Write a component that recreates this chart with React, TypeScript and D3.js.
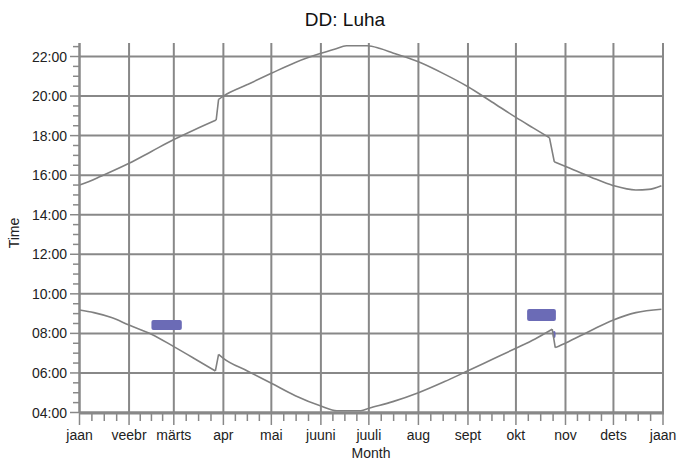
import React from "react";
import * as d3 from "d3";

const monthStarts = [0, 31, 59, 90, 120, 151, 181, 212, 243, 273, 304, 334, 365];
const monthLabels = ["jaan", "veebr", "märts", "apr", "mai", "juuni", "juuli", "aug", "sept", "okt", "nov", "dets", "jaan"];
const hourTicks = [4, 6, 8, 10, 12, 14, 16, 18, 20, 22];
const hourLabels = ["04:00", "06:00", "08:00", "10:00", "12:00", "14:00", "16:00", "18:00", "20:00", "22:00"];

const sunsetDays = [0, 6, 13, 31, 45, 59, 72, 85.5, 87, 90, 105, 120, 135, 151, 160, 167, 180, 188, 196, 212, 228, 243, 258, 273, 284, 294, 297, 304.5, 320, 334, 348, 356, 364];
const sunsetHours = [15.5, 15.68, 15.93, 16.6, 17.2, 17.8, 18.3, 18.79, 19.83, 20.0, 20.58, 21.15, 21.7, 22.16, 22.38, 22.54, 22.54, 22.4, 22.18, 21.73, 21.12, 20.47, 19.7, 18.92, 18.38, 17.89, 16.68, 16.43, 15.9, 15.47, 15.25, 15.28, 15.47];
// indices where a new daylight-saving segment starts
const sunsetBreaks = [8, 26];

const sunriseDays = [0, 9, 20, 31, 45, 59, 72, 85, 87, 90, 105, 120, 135, 151, 161, 176, 181, 196, 212, 228, 243, 258, 273, 285, 295.7, 297.6, 304.5, 320, 334, 348, 364];
const sunriseHours = [9.18, 9.05, 8.8, 8.42, 7.96, 7.33, 6.72, 6.1, 6.94, 6.74, 6.1, 5.48, 4.85, 4.33, 4.09, 4.09, 4.21, 4.55, 5.0, 5.55, 6.11, 6.68, 7.25, 7.72, 8.21, 7.28, 7.53, 8.15, 8.68, 9.05, 9.22];
const sunriseBreaks = [8, 25];

// marked periods
const markStartDays = [45, 280, 296];
const markEndDays = [64, 298, 297.8];
const markLowHours = [8.17, 8.63, 7.77];
const markHighHours = [8.68, 9.23, 8.12];

const FONT = "'Liberation Sans', Arial, sans-serif";
const GRID = "#888888";

export default function App() {
  const x = d3.scaleLinear().domain([0, 365]).range([79.5, 663]);
  const y = d3.scaleLinear().domain([4, 22]).range([412.5, 56.5]);
  const yTop = y(22.68);
  const yBottom = y(4) + 0.5;

  const smooth = d3
    .line<[number, number]>()
    .x((d) => x(d[0]))
    .y((d) => y(d[1]))
    .curve(d3.curveMonotoneX);
  const straight = d3
    .line<[number, number]>()
    .x((d) => x(d[0]))
    .y((d) => y(d[1]));

  const buildPath = (days: number[], hours: number[], breaks: number[]) => {
    const pts = days.map((d, i) => [d, hours[i]] as [number, number]);
    const cuts = [0, ...breaks, pts.length];
    let p = "";
    for (let k = 0; k < cuts.length - 1; k++) {
      const seg = pts.slice(cuts[k], cuts[k + 1]);
      p += smooth(seg) || "";
      if (k < cuts.length - 2) {
        p += straight([pts[cuts[k + 1] - 1], pts[cuts[k + 1]]]) || "";
      }
    }
    return p;
  };

  const minorX: number[] = [];
  for (let m = 0; m < 12; m++) {
    const a = monthStarts[m];
    const b = monthStarts[m + 1];
    for (let q = 1; q < 4; q++) minorX.push(a + ((b - a) * q) / 4);
  }
  const minorY: number[] = [];
  for (let h = 4; h <= 22.6; h += 0.5) if (h % 2 !== 0) minorY.push(h);

  return (
    <svg
      width={678}
      height={463}
      style={{ position: "absolute", left: 0, top: 0, background: "#fff" }}
      fontFamily={FONT}
    >
      <rect x={0} y={0} width={678} height={463} fill="#fff" />
      <text x={345} y={26} textAnchor="middle" fontSize={19} fill="#111">
        DD: Luha
      </text>

      {hourTicks.map((h) => (
        <line key={"hg" + h} x1={80} x2={664} y1={y(h)} y2={y(h)} stroke={GRID} strokeWidth={2} />
      ))}
      {monthStarts.map((d, i) => (
        <line key={"vg" + i} x1={x(d)} x2={x(d)} y1={yTop} y2={yBottom} stroke={GRID} strokeWidth={2} />
      ))}

      {markStartDays.map((d, i) => (
        <rect
          key={"mk" + i}
          x={x(d)}
          y={y(markHighHours[i])}
          width={x(markEndDays[i]) - x(d)}
          height={y(markLowHours[i]) - y(markHighHours[i])}
          rx={2}
          fill="#6b6bb6"
        />
      ))}

      <path d={buildPath(sunsetDays, sunsetHours, sunsetBreaks)} fill="none" stroke="#808080" strokeWidth={1.6} />
      <path d={buildPath(sunriseDays, sunriseHours, sunriseBreaks)} fill="none" stroke="#808080" strokeWidth={1.6} />

      <line x1={79.5} x2={79.5} y1={yTop} y2={yBottom} stroke={GRID} strokeWidth={2} />
      {hourTicks.map((h, i) => (
        <g key={"yt" + h}>
          <line x1={70} x2={80} y1={y(h)} y2={y(h)} stroke={GRID} strokeWidth={1.5} />
          <text x={67} y={y(h) + 5} textAnchor="end" fontSize={14} fill="#222">
            {hourLabels[i]}
          </text>
        </g>
      ))}
      {minorY.map((h) => (
        <line key={"ym" + h} x1={73} x2={79} y1={y(h)} y2={y(h)} stroke={GRID} strokeWidth={1.5} />
      ))}

      <line x1={79} x2={664} y1={413} y2={413} stroke={GRID} strokeWidth={3} />
      {monthStarts.map((d, i) => (
        <g key={"xt" + i}>
          <line x1={x(d)} x2={x(d)} y1={413} y2={425} stroke={GRID} strokeWidth={1.5} />
          <text x={x(d)} y={440} textAnchor="middle" fontSize={14} fill="#222">
            {monthLabels[i]}
          </text>
        </g>
      ))}
      {minorX.map((d, i) => (
        <line key={"xm" + i} x1={x(d)} x2={x(d)} y1={413} y2={421} stroke={GRID} strokeWidth={1.5} />
      ))}

      <text x={371} y={458} textAnchor="middle" fontSize={14} fill="#222">
        Month
      </text>
      <text
        x={0}
        y={0}
        transform={`translate(19,233) rotate(-90)`}
        textAnchor="middle"
        fontSize={14}
        fill="#222"
      >
        Time
      </text>
    </svg>
  );
}
